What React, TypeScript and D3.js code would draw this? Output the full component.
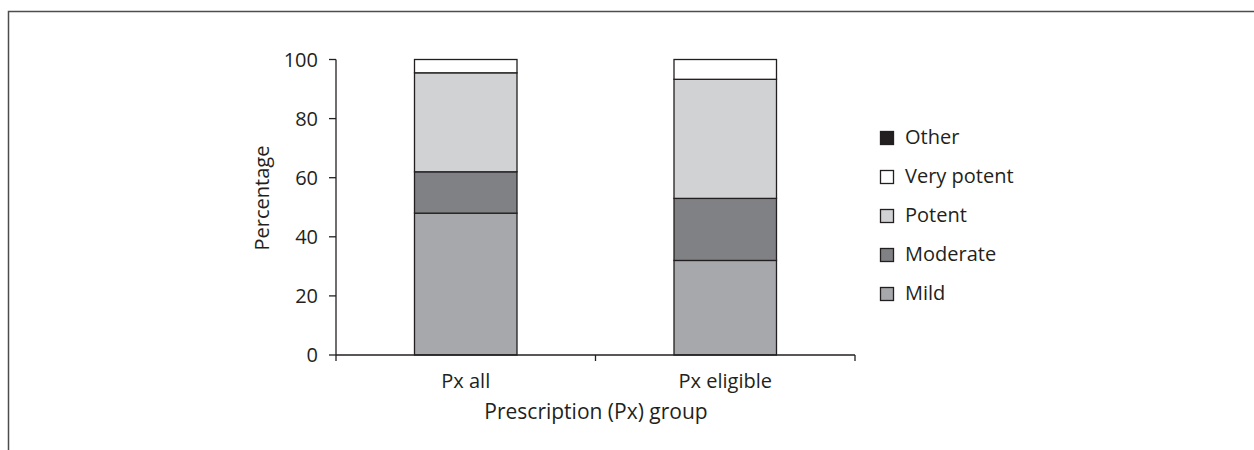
import React from "react";
import * as d3 from "d3";

// Prescription groups and the share (%) of each potency class
const groups = ["Px all", "Px eligible"];
const classes = ["Mild", "Moderate", "Potent", "Very potent", "Other"];
const mild = [48, 32];
const moderate = [14, 21];
const potent = [33.5, 40.3];
const veryPotent = [4.5, 6.7];
const other = [0, 0];
const yTicks = [0, 20, 40, 60, 80, 100];

const fills: Record<string, string> = {
  Mild: "#a7a8ab",
  Moderate: "#808184",
  Potent: "#d1d2d4",
  "Very potent": "#ffffff",
  Other: "#231f20",
};

const W = 1254;
const H = 450;
const FONT = "'Open Sans', Lato, sans-serif";
const INK = "#231f20";

export default function App() {
  const rows = groups.map((g, i) => ({
    group: g,
    Mild: mild[i],
    Moderate: moderate[i],
    Potent: potent[i],
    "Very potent": veryPotent[i],
    Other: other[i],
  }));
  const stack = d3.stack<any>().keys(classes)(rows);

  const x = d3.scaleBand().domain(groups).range([336, 855]).padding(0);
  const y = d3.scaleLinear().domain([0, 100]).range([355, 59.5]);
  const barW = x.bandwidth() * 0.395;

  const legendItems = [...classes].reverse();

  return (
    <svg
      width={W}
      height={H}
      style={{ position: "absolute", left: 0, top: 0, display: "block" }}
      fontFamily={FONT}
    >
      <rect x={0} y={0} width={W} height={H} fill="#fff" />
      {/* outer frame (top and left edges) */}
      <path d={`M8.5,${H} V11.5 H${W}`} fill="none" stroke="#4d4d4d" strokeWidth={1.5} />

      {/* stacked bars */}
      {stack.map((layer) =>
        layer.map((d, i) => {
          const top = y(d[1]);
          const bottom = y(d[0]);
          const h = bottom - top;
          if (h <= 0) return null;
          const cx = x(groups[i])! + x.bandwidth() / 2;
          return (
            <rect
              key={layer.key + i}
              x={cx - barW / 2}
              y={top}
              width={barW}
              height={h}
              fill={fills[layer.key]}
              stroke={INK}
              strokeWidth={1.3}
            />
          );
        })
      )}

      {/* y axis */}
      <line x1={336} x2={336} y1={y(100)} y2={y(0)} stroke={INK} strokeWidth={1.3} />
      {yTicks.map((t) => (
        <g key={t}>
          <line x1={329} x2={336} y1={y(t)} y2={y(t)} stroke={INK} strokeWidth={1.3} />
          <text
            x={318}
            y={y(t)}
            dy="0.36em"
            textAnchor="end"
            fontSize={20}
            fill={INK}
          >
            {t}
          </text>
        </g>
      ))}
      <text
        transform={`translate(269,198) rotate(-90)`}
        textAnchor="middle"
        fontSize={20}
        fill={INK}
      >
        Percentage
      </text>

      {/* x axis */}
      <line x1={336} x2={855} y1={y(0)} y2={y(0)} stroke={INK} strokeWidth={1.3} />
      {[0, 1, 2].map((k) => {
        const px = 336 + k * x.step();
        return <line key={k} x1={px} x2={px} y1={y(0)} y2={y(0) + 6} stroke={INK} strokeWidth={1.3} />;
      })}
      {groups.map((g) => (
        <text
          key={g}
          x={x(g)! + x.bandwidth() / 2}
          y={388}
          textAnchor="middle"
          fontSize={20}
          fill={INK}
        >
          {g}
        </text>
      ))}
      <text x={596} y={419} textAnchor="middle" fontSize={21} fill={INK}>
        Prescription (Px) group
      </text>

      {/* legend */}
      {legendItems.map((k, i) => {
        const cy = 138 + i * 39;
        return (
          <g key={k}>
            <rect
              x={880.5}
              y={cy - 6.5}
              width={13}
              height={13}
              fill={fills[k]}
              stroke={INK}
              strokeWidth={1.3}
            />
            <text x={905} y={cy + 6} fontSize={20} fill={INK}>
              {k}
            </text>
          </g>
        );
      })}
    </svg>
  );
}
